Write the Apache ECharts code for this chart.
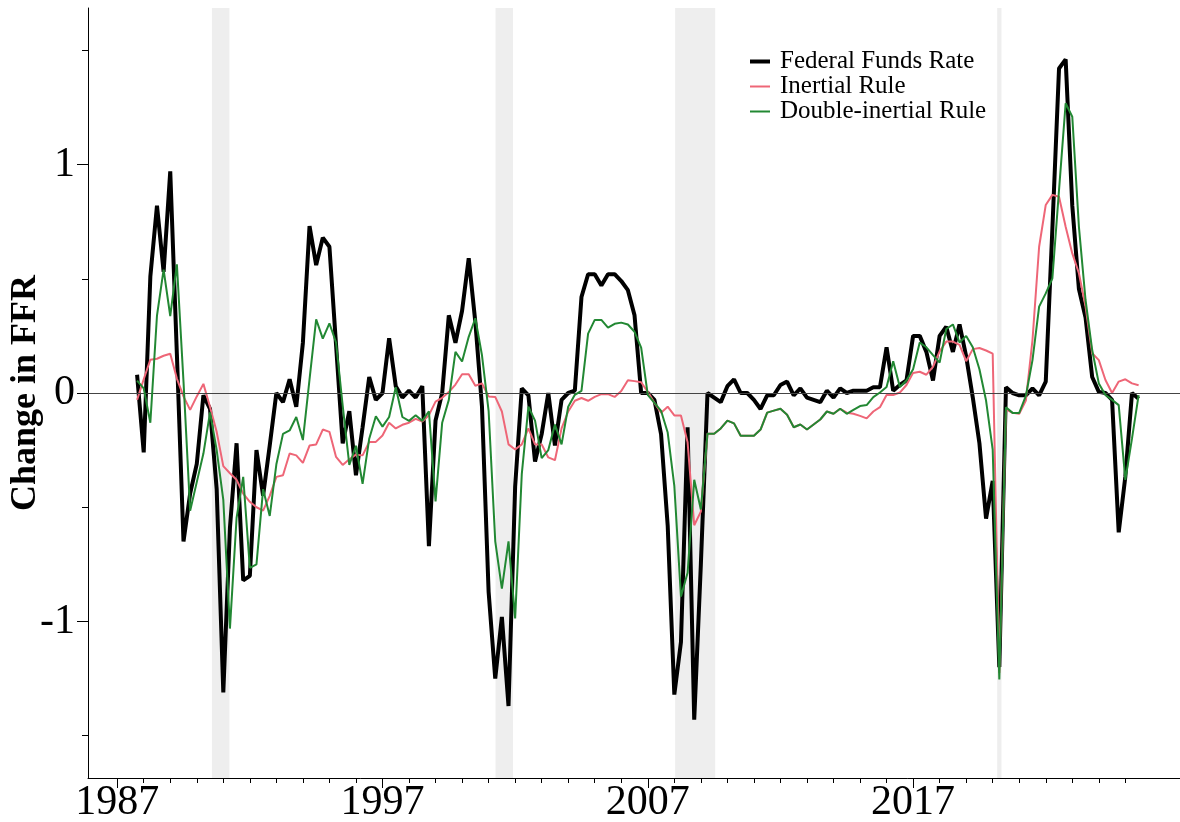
<!DOCTYPE html>
<html>
<head>
<meta charset="utf-8">
<script src="https://cdn.jsdelivr.net/npm/echarts@6/dist/echarts.min.js"></script>
<style>
html,body{margin:0;padding:0;background:#fff;}
#chart{width:1180px;height:822px;}
</style>
</head>
<body>
<div id="chart"></div>
<script>
const quarters = [
'1987Q4',
'1988Q1','1988Q2','1988Q3','1988Q4','1989Q1','1989Q2','1989Q3','1989Q4',
'1990Q1','1990Q2','1990Q3','1990Q4','1991Q1','1991Q2','1991Q3','1991Q4',
'1992Q1','1992Q2','1992Q3','1992Q4','1993Q1','1993Q2','1993Q3','1993Q4',
'1994Q1','1994Q2','1994Q3','1994Q4','1995Q1','1995Q2','1995Q3','1995Q4',
'1996Q1','1996Q2','1996Q3','1996Q4','1997Q1','1997Q2','1997Q3','1997Q4',
'1998Q1','1998Q2','1998Q3','1998Q4','1999Q1','1999Q2','1999Q3','1999Q4',
'2000Q1','2000Q2','2000Q3','2000Q4','2001Q1','2001Q2','2001Q3','2001Q4',
'2002Q1','2002Q2','2002Q3','2002Q4','2003Q1','2003Q2','2003Q3','2003Q4',
'2004Q1','2004Q2','2004Q3','2004Q4','2005Q1','2005Q2','2005Q3','2005Q4',
'2006Q1','2006Q2','2006Q3','2006Q4','2007Q1','2007Q2','2007Q3','2007Q4',
'2008Q1','2008Q2','2008Q3','2008Q4','2009Q1','2009Q2','2009Q3','2009Q4',
'2010Q1','2010Q2','2010Q3','2010Q4','2011Q1','2011Q2','2011Q3','2011Q4',
'2012Q1','2012Q2','2012Q3','2012Q4','2013Q1','2013Q2','2013Q3','2013Q4',
'2014Q1','2014Q2','2014Q3','2014Q4','2015Q1','2015Q2','2015Q3','2015Q4',
'2016Q1','2016Q2','2016Q3','2016Q4','2017Q1','2017Q2','2017Q3','2017Q4',
'2018Q1','2018Q2','2018Q3','2018Q4','2019Q1','2019Q2','2019Q3','2019Q4',
'2020Q1','2020Q2','2020Q3','2020Q4','2021Q1','2021Q2','2021Q3','2021Q4',
'2022Q1','2022Q2','2022Q3','2022Q4','2023Q1','2023Q2','2023Q3','2023Q4',
'2024Q1','2024Q2','2024Q3','2024Q4','2025Q1','2025Q2','2025Q3'
];

const federalFundsRate = [
0.08,
-0.26,0.51,0.82,0.53, 0.97,0.17,-0.65,-0.44,
-0.31,-0.01,-0.07,-0.42, -1.31,-0.59,-0.22,-0.82,
-0.80,-0.25,-0.45,-0.23, 0.00,-0.04,0.06,-0.06,
0.22,0.73,0.56,0.68, 0.64,0.21,-0.22,-0.08,
-0.36,-0.15,0.07,-0.03, 0.00,0.24,0.03,-0.02,
0.01,-0.02,0.03,-0.67, -0.12,0.00,0.34,0.22,
0.36,0.59,0.31,-0.06, -0.87,-1.25,-0.98,-1.37,
-0.41,0.02,-0.01,-0.30, -0.18,0.00,-0.23,-0.03,
0.00,0.01,0.42,0.52, 0.52,0.47,0.52,0.52,
0.49,0.45,0.34,0.00, 0.00,-0.03,-0.18,-0.58,
-1.32,-1.09,-0.15,-1.43, -0.75,0.00,-0.02,-0.04,
0.03,0.06,0.00,0.00, -0.03,-0.07,-0.01,-0.01,
0.035,0.05,-0.01,0.02, -0.02,-0.03,-0.04,0.01,
-0.02,0.02,0.00,0.01, 0.01,0.01,0.025,0.025,
0.20,0.01,0.035,0.055, 0.25,0.25,0.18,0.055,
0.25,0.29,0.18,0.30, 0.16,-0.02,-0.22,-0.55,
-0.385,-1.20,0.025,0.00, -0.01,-0.01,0.02,-0.01,
0.05,0.72,1.42,1.46, 0.82,0.455,0.33,0.07,
0.005,0.00,-0.03,-0.61, -0.365,0.00,-0.025
];

const inertialRule = [
-0.03,
0.06,0.146,0.15,0.163, 0.172,0.063,-0.015,-0.074,
-0.015,0.04,-0.061,-0.17, -0.32,-0.351,-0.38,-0.44,
-0.476,-0.50,-0.515,-0.45, -0.367,-0.36,-0.265,-0.273,
-0.306,-0.23,-0.225,-0.16, -0.17,-0.28,-0.315,-0.29,
-0.27,-0.273,-0.214,-0.214, -0.186,-0.13,-0.155,-0.139,
-0.13,-0.113,-0.125,-0.097, -0.038,-0.021,0.004,0.037,
0.082,0.082,0.032,0.042, -0.015,-0.017,-0.081,-0.225,
-0.247,-0.225,-0.155,-0.225, -0.225,-0.282,-0.294,-0.155,
-0.081,-0.034,-0.022,-0.034, -0.017,-0.005,-0.005,-0.017,
0.009,0.056,0.052,0.047, 0.005,-0.043,-0.086,-0.06,
-0.098,-0.098,-0.216,-0.579, -0.519,-0.178,-0.178,-0.155,
-0.121,-0.133,-0.187,-0.187, -0.187,-0.16,-0.086,-0.077,
-0.069,-0.095,-0.15,-0.138, -0.16,-0.138,-0.116,-0.081,
-0.091,-0.069,-0.086,-0.091, -0.10,-0.111,-0.081,-0.062,
-0.009,-0.009,0.002,0.035, 0.088,0.093,0.08,0.114,
0.182,0.225,0.225,0.211, 0.139,0.192,0.197,0.186,
0.172,-1.225,-0.072,-0.087, -0.091,-0.033,0.232,0.64,
0.823,0.867,0.859,0.728, 0.611,0.524,0.378,0.174,
0.144,0.057,0.00,0.05, 0.06,0.042,0.034
];

const doubleInertialRule = [
0.054,
0.02,-0.13,0.339,0.54, 0.337,0.563,0.05,-0.515,
-0.39,-0.265,-0.085,-0.25, -0.468,-1.031,-0.547,-0.367,
-0.765,-0.75,-0.421,-0.538, -0.312,-0.179,-0.164,-0.105,
-0.206,0.06,0.322,0.238, 0.305,0.221,-0.055,-0.315,
-0.231,-0.398,-0.20,-0.102, -0.147,-0.105,0.025,-0.105,
-0.122,-0.097,-0.122,-0.08, -0.474,-0.13,-0.03,0.18,
0.138,0.246,0.327,0.165, -0.078,-0.649,-0.856,-0.649,
-0.987,-0.355,-0.06,-0.121, -0.285,-0.25,-0.138,-0.225,
-0.06,-0.008,0.009,0.26, 0.32,0.32,0.286,0.303,
0.308,0.30,0.268,0.199, -0.008,-0.043,-0.078,-0.173,
-0.407,-0.891,-0.787,-0.38, -0.51,-0.178,-0.178,-0.155,
-0.121,-0.133,-0.187,-0.187, -0.187,-0.16,-0.086,-0.077,
-0.069,-0.095,-0.15,-0.138, -0.16,-0.138,-0.116,-0.081,
-0.091,-0.069,-0.091,-0.074, -0.057,-0.053,-0.018,0.002,
0.026,0.139,0.026,0.055, 0.104,0.221,0.20,0.166,
0.133,0.28,0.30,0.221, 0.25,0.20,0.104,-0.033,
-0.248,-1.254,-0.062,-0.087, -0.087,-0.013,0.144,0.378,
0.436,0.502,0.888,1.268, 1.209,0.727,0.407,0.188,
0.042,-0.009,-0.03,-0.053, -0.38,-0.20,-0.009
];

const recessions = [[1990.57,1991.23],[2001.26,2001.92],[2008.03,2009.54],[2020.17,2020.33]];
const seriesNames = ['Federal Funds Rate','Inertial Rule','Double-inertial Rule'];
const xMajorTicks = [1987,1997,2007,2017];
const xMinorTicks = [1988,1989,1990,1991,1992,1993,1994,1995,1996,1998,1999,2000,2001,2002,2003,2004,2005,2006,
  2008,2009,2010,2011,2012,2013,2014,2015,2016,2018,2019,2020,2021,2022,2023,2024,2025];
const yMajorTicks = [-1,0,1];
const yMinorTicks = [-1.5,-0.5,0.5,1.5];
const yAxisTitle = 'Change in FFR';

const X_MIN = 1985.9, X_MAX = 2027.06, Y_MIN = -1.685, Y_MAX = 1.685;
const SERIF = "'Liberation Serif', 'DejaVu Serif', serif";
const ICON_THICK = 'path://M0,0M20,12M0,4H20V8H0Z';
const ICON_THIN = 'path://M0,0M20,12M0,5H20V7H0Z';

function qToYear(q){ return Number(q.slice(0,4)) + (Number(q.slice(5)) - 1) / 4; }
function pairs(vals){ return quarters.map((q,i)=>[qToYear(q), vals[i]]); }

const chart = echarts.init(document.getElementById('chart'), null, {renderer:'canvas'});
const black = '#000000';
chart.setOption({
  animation:false,
  backgroundColor:'#ffffff',
  grid:{left:88, right:0, top:8, bottom:44, containLabel:false, outerBoundsMode:'none'},
  legend:{
    orient:'vertical', left:750, top:49, padding:0,
    data:[
      {name:seriesNames[0], icon:ICON_THICK},
      {name:seriesNames[1], icon:ICON_THIN},
      {name:seriesNames[2], icon:ICON_THIN}
    ],
    itemWidth:20, itemHeight:12, itemGap:0,
    textStyle:{fontFamily:SERIF, fontSize:25, lineHeight:23.5, color:'#000', padding:[0,0,0,5]}
  },
  xAxis:[
    {type:'value', min:X_MIN, max:X_MAX, position:'bottom',
     axisLine:{show:true, onZero:false, lineStyle:{color:black, width:1}},
     axisTick:{show:true, length:5, customValues:xMinorTicks, lineStyle:{color:black, width:1}},
     axisLabel:{show:false}, splitLine:{show:false}},
    {type:'value', min:X_MIN, max:X_MAX, position:'bottom',
     axisLine:{show:false, onZero:false},
     axisTick:{show:true, length:10, customValues:xMajorTicks, lineStyle:{color:black, width:1}},
     axisLabel:{show:true, customValues:xMajorTicks, formatter:v=>String(v), fontFamily:SERIF, fontSize:42, color:'#000', margin:4},
     splitLine:{show:false}}
  ],
  yAxis:[
    {type:'value', min:Y_MIN, max:Y_MAX, position:'left',
     axisLine:{show:true, onZero:false, lineStyle:{color:black, width:1}},
     axisTick:{show:true, length:6, customValues:yMinorTicks, lineStyle:{color:black, width:1}},
     axisLabel:{show:false}, splitLine:{show:false},
     name:yAxisTitle, nameLocation:'middle', nameGap:44, nameRotate:90,
     nameTextStyle:{fontFamily:SERIF, fontSize:36, fontWeight:'bold', color:'#000'}},
    {type:'value', min:Y_MIN, max:Y_MAX, position:'left',
     axisLine:{show:false, onZero:false},
     axisTick:{show:true, length:11, customValues:yMajorTicks, lineStyle:{color:black, width:1}},
     axisLabel:{show:true, customValues:yMajorTicks, formatter:v=>String(v), fontFamily:SERIF, fontSize:42, color:'#000', margin:13},
     splitLine:{show:false}}
  ],
  series:[
    {name:'_bands', type:'line', data:[], z:1, silent:true, xAxisIndex:0, yAxisIndex:0,
     markArea:{silent:true, itemStyle:{color:'#eeeeee'}, data:recessions.map(r=>[{xAxis:r[0]},{xAxis:r[1]}])},
     markLine:{silent:true, symbol:'none', label:{show:false}, lineStyle:{color:'#444', width:1, type:'solid'}, data:[{yAxis:0}]}},
    {name:seriesNames[0], type:'line', data:pairs(federalFundsRate), showSymbol:false, symbol:'none', z:3,
     lineStyle:{color:'#000', width:4}, itemStyle:{color:'#000'}},
    {name:seriesNames[1], type:'line', data:pairs(inertialRule), showSymbol:false, symbol:'none', z:4,
     lineStyle:{color:'#EE6677', width:2}, itemStyle:{color:'#EE6677'}},
    {name:seriesNames[2], type:'line', data:pairs(doubleInertialRule), showSymbol:false, symbol:'none', z:5,
     lineStyle:{color:'#228833', width:2}, itemStyle:{color:'#228833'}}
  ]
});
</script>
</body>
</html>
